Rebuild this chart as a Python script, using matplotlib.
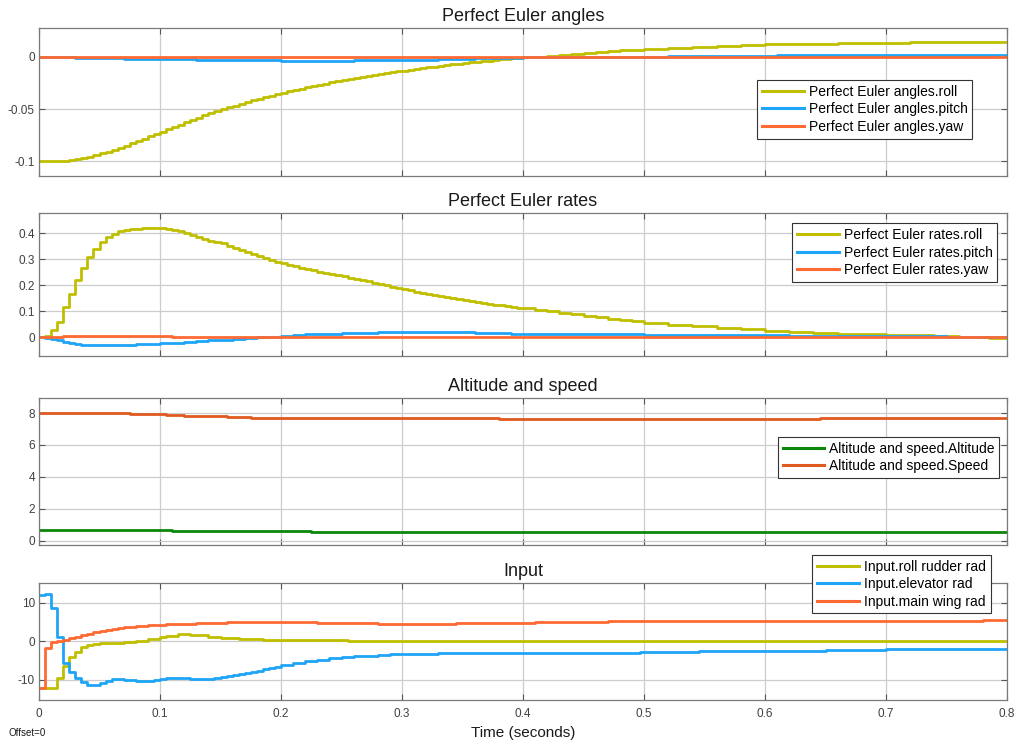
import numpy as np
import matplotlib.pyplot as plt

# sample period of the logged signals (s)
DT = 0.005
T_END = 0.8

# ---------------- Perfect Euler angles ----------------
roll_ang_fine = [
    -0.1000, -0.1000, -0.1000, -0.0999, -0.0996, -0.0990, -0.0982, -0.0971,
    -0.0958, -0.0943, -0.0926, -0.0909, -0.0890, -0.0871, -0.0851, -0.0830,
    -0.0808, -0.0786, -0.0763, -0.0741, -0.0718, -0.0695, -0.0672, -0.0649,
    -0.0627, -0.0605, -0.0583, -0.0562, -0.0541, -0.0521, -0.0502, -0.0484,
    -0.0467, -0.0450, -0.0434, -0.0418, -0.0402, -0.0387, -0.0372, -0.0358,
    -0.0344, -0.0330, -0.0317, -0.0304, -0.0291, -0.0279, -0.0267, -0.0255,
    -0.0244, -0.0233, -0.0222, -0.0212, -0.0202, -0.0192, -0.0182, -0.0173,
    -0.0164, -0.0155, -0.0146, -0.0138, -0.0130, -0.0122, -0.0114, -0.0106,
    -0.0099, -0.0092, -0.0085, -0.0078, -0.0071, -0.0064, -0.0058, -0.0052,
    -0.0046, -0.0040, -0.0034, -0.0028, -0.0023, -0.0018, -0.0013, -0.0008,
    -0.0003,
]
roll_ang_tail_t = [0.41, 0.42, 0.43, 0.44, 0.45, 0.46, 0.47, 0.48, 0.49, 0.50,
                   0.52, 0.54, 0.56, 0.58, 0.60, 0.63, 0.66, 0.69, 0.72, 0.76]
roll_ang_tail_v = [0.0003, 0.0012, 0.0021, 0.0030, 0.0039, 0.0047, 0.0055,
                   0.0063, 0.0071, 0.0079, 0.0090, 0.0100, 0.0108, 0.0115,
                   0.0121, 0.0128, 0.0133, 0.0137, 0.0140, 0.0142]

pitch_ang_t = [0, 0.03, 0.05, 0.07, 0.10, 0.13, 0.16, 0.20, 0.26, 0.30, 0.33,
               0.36, 0.38, 0.40, 0.52, 0.61]
pitch_ang_v = [0, -0.0005, -0.001, -0.0015, -0.002, -0.0025, -0.003, -0.0035,
               -0.003, -0.0025, -0.002, -0.001, -0.0005, 0.0, 0.0005, 0.0015]

yaw_ang_t = [0]
yaw_ang_v = [0.0]

# ---------------- Perfect Euler rates ----------------
roll_rate_fine = [
    0.000, 0.003, 0.027, 0.059, 0.117, 0.165, 0.219, 0.267, 0.306, 0.337,
    0.364, 0.383, 0.397, 0.406, 0.412, 0.415, 0.417, 0.418, 0.418, 0.418,
    0.418, 0.417, 0.413, 0.408, 0.401, 0.394, 0.386, 0.378, 0.370, 0.365,
    0.360, 0.351, 0.343, 0.335, 0.327, 0.319, 0.312, 0.304, 0.297, 0.290,
    0.284, 0.278, 0.272, 0.267, 0.262, 0.257, 0.252, 0.248, 0.244, 0.239,
    0.234, 0.229, 0.224, 0.219, 0.214, 0.209, 0.204, 0.199, 0.194, 0.189,
    0.184, 0.179, 0.175, 0.170, 0.166, 0.162, 0.158, 0.154, 0.150, 0.146,
    0.142, 0.138, 0.134, 0.131, 0.128, 0.125, 0.122, 0.119, 0.116, 0.113,
    0.110,
]
roll_rate_tail_t = [0.41, 0.42, 0.43, 0.44, 0.45, 0.46, 0.47, 0.48, 0.49, 0.50,
                    0.52, 0.54, 0.56, 0.58, 0.60, 0.62, 0.64, 0.66, 0.68, 0.70,
                    0.72, 0.74, 0.76, 0.785]
roll_rate_tail_v = [0.105, 0.099, 0.094, 0.088, 0.082, 0.077, 0.071, 0.066,
                    0.060, 0.055, 0.048, 0.041, 0.035, 0.029, 0.024, 0.020,
                    0.016, 0.013, 0.010, 0.008, 0.006, 0.004, 0.002, -0.002]

pitch_rate_t = [0, 0.005, 0.01, 0.015, 0.02, 0.025, 0.03, 0.035, 0.045, 0.065,
                0.08, 0.09, 0.10, 0.11, 0.12, 0.13, 0.14, 0.15, 0.16, 0.17,
                0.18, 0.19, 0.20, 0.21, 0.22, 0.235, 0.25, 0.265, 0.28, 0.36,
                0.39, 0.44, 0.50, 0.555, 0.62, 0.70, 0.75, 0.78]
pitch_rate_v = [0, -0.003, -0.008, -0.013, -0.018, -0.023, -0.027, -0.030,
                -0.031, -0.030, -0.028, -0.026, -0.024, -0.022, -0.019, -0.016,
                -0.013, -0.010, -0.007, -0.004, -0.001, 0.002, 0.005, 0.008,
                0.010, 0.013, 0.015, 0.017, 0.018, 0.016, 0.013, 0.011, 0.009,
                0.007, 0.005, 0.003, 0.001, 0.0]

yaw_rate_t = [0, 0.01, 0.02, 0.03, 0.09, 0.11, 0.13]
yaw_rate_v = [0, 0.002, 0.004, 0.005, 0.003, 0.001, 0.0]

# ---------------- Altitude and speed ----------------
alt_t = [0, 0.11, 0.225]
alt_v = [0.67, 0.63, 0.57]

speed_t = [0, 0.075, 0.09, 0.105, 0.12, 0.14, 0.155, 0.175, 0.20, 0.38, 0.645]
speed_v = [8.02, 7.96, 7.92, 7.88, 7.83, 7.79, 7.75, 7.71, 7.67, 7.63, 7.67]

# ---------------- Input ----------------
rudder_t = [0, 0.015, 0.02, 0.025, 0.03, 0.035, 0.04, 0.045, 0.05, 0.06, 0.07,
            0.08, 0.09, 0.10, 0.105, 0.115, 0.125, 0.14, 0.15, 0.165, 0.185,
            0.255, 0.50]
rudder_v = [-12.1, -9.5, -6.4, -4.1, -2.7, -1.6, -1.0, -0.7, -0.5, -0.35,
            -0.15, 0.15, 0.6, 1.0, 1.5, 1.8, 1.6, 1.2, 0.8, 0.5, 0.35, 0.15,
            0.0]

elev_t = [0, 0.005, 0.01, 0.015, 0.02, 0.025, 0.03, 0.035, 0.04, 0.05, 0.055,
          0.06, 0.065, 0.07, 0.075, 0.08, 0.09, 0.095, 0.10, 0.105, 0.125,
          0.145, 0.15, 0.155, 0.16, 0.165, 0.17, 0.175, 0.18, 0.185, 0.19,
          0.195, 0.20, 0.21, 0.22, 0.23, 0.24, 0.25, 0.26, 0.27, 0.28, 0.29,
          0.30, 0.33, 0.425, 0.497, 0.545, 0.59, 0.65, 0.70]
elev_v = [11.9, 12.3, 8.6, 1.2, -5.7, -7.9, -9.6, -10.6, -11.3, -10.9, -10.2,
          -9.8, -9.7, -9.9, -10.1, -10.4, -10.3, -10.0, -9.8, -9.6, -9.7,
          -9.5, -9.2, -9.0, -8.7, -8.4, -8.2, -7.9, -7.6, -7.3, -7.0, -6.6,
          -6.2, -5.7, -5.2, -4.8, -4.4, -4.1, -3.9, -3.7, -3.5, -3.35, -3.2,
          -3.1, -3.0, -2.8, -2.6, -2.4, -2.3, -2.1]

wing_t = [0, 0.005, 0.01, 0.015, 0.02, 0.025, 0.03, 0.035, 0.04, 0.045, 0.05,
          0.055, 0.06, 0.065, 0.07, 0.075, 0.08, 0.085, 0.09, 0.095, 0.10,
          0.105, 0.11, 0.12, 0.13, 0.14, 0.155, 0.17, 0.23, 0.28, 0.345, 0.41,
          0.47, 0.56, 0.78]
wing_v = [-12.2, -1.8, -0.3, 0.1, 0.4, 0.8, 1.2, 1.6, 2.0, 2.3, 2.65, 2.9,
          3.2, 3.4, 3.6, 3.8, 3.9, 4.0, 4.1, 4.2, 4.3, 4.4, 4.5, 4.6, 4.7, 4.8,
          4.9, 5.0, 4.7, 4.5, 4.7, 4.95, 5.15, 5.3, 5.5]

# colours
C_ROLL = "#bfbf00"
C_PITCH = "#1fa5f7"
C_YAW = "#ff6a33"
C_ALT = "#0b870b"
C_SPEED = "#e05a20"


def held(t, v):
    """Zero-order-hold breakpoints extended to the end of the run."""
    t = list(t) + [T_END]
    v = list(v) + [v[-1]]
    return np.array(t), np.array(v)


def fine_then_tail(fine, tail_t, tail_v):
    tf = DT * np.arange(len(fine))
    return held(list(tf) + list(tail_t), list(fine) + list(tail_v))


plt.rcParams.update({
    "font.family": ["Liberation Sans", "DejaVu Sans"],
    "axes.edgecolor": "#7a7a7a",
    "axes.linewidth": 0.9,
})

fig = plt.figure(figsize=(10.19, 7.42), dpi=100)
L, W = 0.0383, 0.950
axes = [
    fig.add_axes([L, 0.7628, W, 0.1995]),
    fig.add_axes([L, 0.5202, W, 0.1927]),
    fig.add_axes([L, 0.2655, W, 0.1981]),
    fig.add_axes([L, 0.0566, W, 0.1577]),
]


def style(ax, title, ylim, yticks, ylabels):
    ax.set_xlim(0, T_END)
    ax.set_ylim(*ylim)
    ax.set_xticks(np.arange(0, 0.81, 0.1))
    ax.set_yticks(yticks)
    ax.set_yticklabels(ylabels)
    ax.grid(True, color="#cccccc", lw=0.9)
    ax.set_axisbelow(True)
    ax.tick_params(direction="in", length=4, width=0.8, color="#555555",
                   top=True, right=True, labelsize=8.5, labelcolor="#404040",
                   pad=3)
    ax.set_title(title, fontsize=13, color="#1a1a1a", pad=5)


def add_legend(ax, x0, y1):
    leg = ax.legend(loc="upper left", bbox_to_anchor=(x0, y1),
                    borderaxespad=0, fontsize=10, fancybox=False,
                    framealpha=1, edgecolor="#333333", handlelength=3.0,
                    handletextpad=0.35, labelspacing=0.25, borderpad=0.35)
    leg.get_frame().set_linewidth(0.8)
    for line in leg.get_lines():
        line.set_linewidth(2.2)


LW = 2.0
ax = axes[0]
ax.plot(*fine_then_tail(roll_ang_fine, roll_ang_tail_t, roll_ang_tail_v),
        drawstyle="steps-post", color=C_ROLL, lw=LW,
        label="Perfect Euler angles.roll")
ax.plot(*held(pitch_ang_t, pitch_ang_v), drawstyle="steps-post",
        color=C_PITCH, lw=LW, label="Perfect Euler angles.pitch")
ax.plot(*held(yaw_ang_t, yaw_ang_v), drawstyle="steps-post",
        color=C_YAW, lw=LW, label="Perfect Euler angles.yaw")
style(ax, "Perfect Euler angles", (-0.1144, 0.0279), [-0.1, -0.05, 0],
      ["-0.1", "-0.05", "0"])
add_legend(ax, 0.742, 0.649)

ax = axes[1]
ax.plot(*fine_then_tail(roll_rate_fine, roll_rate_tail_t, roll_rate_tail_v),
        drawstyle="steps-post", color=C_ROLL, lw=LW,
        label="Perfect Euler rates.roll")
ax.plot(*held(pitch_rate_t, pitch_rate_v), drawstyle="steps-post",
        color=C_PITCH, lw=LW, label="Perfect Euler rates.pitch")
ax.plot(*held(yaw_rate_t, yaw_rate_v), drawstyle="steps-post",
        color=C_YAW, lw=LW, label="Perfect Euler rates.yaw")
style(ax, "Perfect Euler rates", (-0.073, 0.477), [0, 0.1, 0.2, 0.3, 0.4],
      ["0", "0.1", "0.2", "0.3", "0.4"])
add_legend(ax, 0.778, 0.928)

ax = axes[2]
ax.plot(*held(alt_t, alt_v), drawstyle="steps-post", color=C_ALT, lw=LW,
        label="Altitude and speed.Altitude")
ax.plot(*held(speed_t, speed_v), drawstyle="steps-post", color=C_SPEED,
        lw=LW, label="Altitude and speed.Speed")
style(ax, "Altitude and speed", (-0.27, 8.94), [0, 2, 4, 6, 8],
      ["0", "2", "4", "6", "8"])
add_legend(ax, 0.763, 0.737)

ax = axes[3]
ax.plot(*held(rudder_t, rudder_v), drawstyle="steps-post", color=C_ROLL,
        lw=LW, label="Input.roll rudder rad")
ax.plot(*held(elev_t, elev_v), drawstyle="steps-post", color=C_PITCH,
        lw=LW, label="Input.elevator rad")
ax.plot(*held(wing_t, wing_v), drawstyle="steps-post", color=C_YAW,
        lw=LW, label="Input.main wing rad")
style(ax, "Input", (-15.2, 15.1), [-10, 0, 10], ["-10", "0", "10"])
add_legend(ax, 0.799, 1.241)

for a in axes[:3]:
    a.tick_params(labelbottom=False)
axes[3].set_xticklabels(["0", "0.1", "0.2", "0.3", "0.4", "0.5", "0.6",
                         "0.7", "0.8"])
axes[3].tick_params(axis="x", pad=6)

fig.text(0.513, 0.003, "Time (seconds)", ha="center", va="bottom",
         fontsize=11, color="#1a1a1a")
fig.text(0.008, 0.005, "Offset=0", ha="left", va="bottom", fontsize=7,
         color="#1a1a1a")

fig.savefig("out.png", dpi=100)
